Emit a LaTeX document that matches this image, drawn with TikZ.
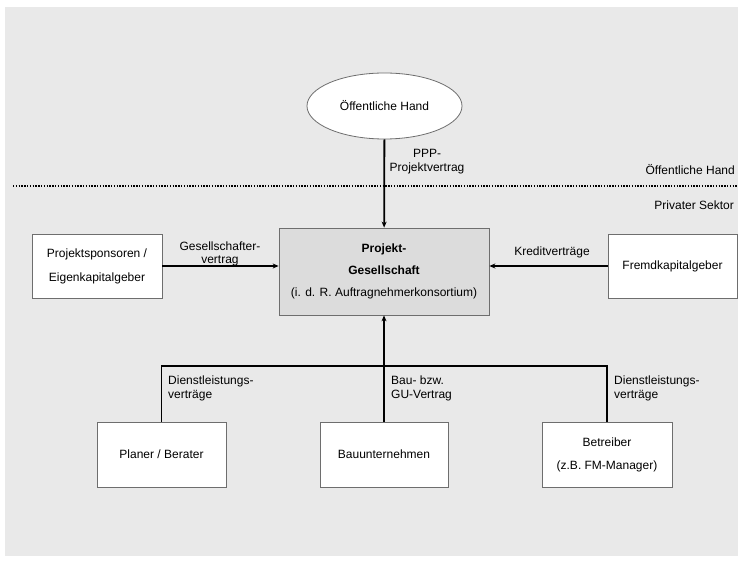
\documentclass[tikz,border=0pt]{standalone}
\usepackage{fontspec}
\setmainfont{Liberation Sans}
\usepackage{tikz}
\usetikzlibrary{arrows.meta, positioning, shapes.geometric}

\definecolor{bggrey}{HTML}{E9E9E9}
\definecolor{edgegrey}{HTML}{6E6E6E}
\definecolor{spvgrey}{HTML}{DCDCDC}

\begin{document}
\begin{tikzpicture}[x=1pt, y=-1pt,
        font=\fontsize{12}{13.5}\selectfont,
        partner/.style = {draw=edgegrey, fill=white, align=center, line width=0.8pt,
                          minimum width=129pt, minimum height=65pt, inner sep=0pt,
                          font=\fontsize{12}{24}\selectfont},
        contract/.style = {align=center, inner sep=0pt},
        bond/.style = {line width=1.8pt},
        arrowbond/.style = {bond, -{Stealth[length=6pt, width=5pt]}},
    ]
    % background
    \fill[white]  (0,0) rectangle (742,561);
    \fill[bggrey] (5,7) rectangle (738,556);
    %
    \node[ellipse, draw=edgegrey, fill=white, line width=0.8pt,
          minimum width=155pt, minimum height=66pt, inner sep=0pt] (hand) at (384.5,106) {Öffentliche Hand};
    \node[partner, fill=spvgrey, minimum width=210pt, minimum height=87pt,
          font=\fontsize{12}{22}\selectfont]            (spv) at (384,271.5)
          {\textbf{Projekt-}\\\textbf{Gesellschaft}\\(i. d. R. Auftragnehmerkonsortium)};
    \node[partner, minimum width=130pt, minimum height=64pt] (sponsoren) at (97,266) {Projektsponsoren /\\Eigenkapitalgeber};
    \node[partner, minimum height=64pt]                (fremd) at (672.5,266) {Fremdkapitalgeber};
    \node[partner]                                     (planer) at (161.5,454.5) {Planer / Berater};
    \node[partner, minimum width=128pt]                (bau) at (384,454.5) {Bauunternehmen};
    \node[partner, minimum width=130pt, font=\fontsize{12}{23}\selectfont] (betreiber) at (607,454.5) {Betreiber\\(z.B. FM-Manager)};
    \coordinate (bar) at (384,366);
    %
    % sector border
    \coordinate (sektor_w) at (13,186);
    \coordinate (sektor_e) at (738,186);
    \draw[line width=1.8pt, dash pattern=on 1.4pt off 1.4pt] (sektor_w) -- (sektor_e);
    \node[contract, anchor=east] (oeff_label) at (735,170) {Öffentliche Hand};
    \node[contract, anchor=east] (priv_label) at (734,205) {Privater Sektor};
    %
    \draw[arrowbond] (hand) -- (spv);
    \draw[arrowbond] (sponsoren.east) -- (sponsoren.east -| spv.west);
    \draw[arrowbond] (fremd.west) -- (fremd.west -| spv.east);
    \draw[bond] (planer.north) -- (planer.north |- bar) -- (betreiber.north |- bar) -- (betreiber.north);
    \draw[arrowbond] (bau) -- (spv);
    %
    \node[contract] (ppp)    at (427,161.5) {PPP-\\Projektvertrag};
    \node[contract] (gesv)   at (220,254)   {Gesellschafter-\\vertrag};
    \node[contract] (kredit) at (552,252)   {Kreditverträge};
    \node[contract, anchor=west, align=left] (dl_planer)    at (168,388.5) {Dienstleistungs-\\verträge};
    \node[contract, anchor=west, align=left] (guv)          at (391,388.5) {Bau- bzw.\\GU-Vertrag};
    \node[contract, anchor=west, align=left] (dl_betreiber) at (614,388.5) {Dienstleistungs-\\verträge};
    %
\end{tikzpicture}
\end{document}
